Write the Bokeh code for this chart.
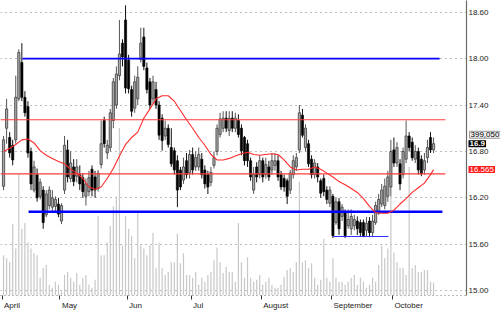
from bokeh.plotting import figure
from bokeh.layouts import row
from bokeh.models import (Range1d, FixedTicker, ColumnDataSource,
                          NumeralTickFormatter, CustomJSTickFormatter)
from bokeh.core.properties import value
from bokeh.embed import file_html
from bokeh.resources import INLINE

# ---------------- data ----------------
months = ["April", "May", "Jun", "Jul", "August", "September", "October"]
month_first_bar = [0, 19, 41, 62, 85, 108, 128]

open_ = [16.35, 17.10, 16.98, 16.88, 16.95, 17.48, 17.95, 17.50, 17.38, 16.80,
         16.30, 16.50, 16.22, 16.30, 15.98, 16.10, 16.08, 16.09, 16.12, 15.90,
         16.30, 16.82, 16.45, 16.60, 16.48, 16.50, 16.46, 16.22, 16.28, 16.57,
         16.47, 16.32, 16.63, 17.20, 16.78, 16.85, 17.20, 17.40, 17.78, 18.20,
         18.50, 17.98, 17.60, 17.36, 17.48, 17.99, 18.28, 17.88, 17.70, 17.48,
         17.60, 17.40, 17.23, 17.00, 17.10, 16.85, 16.81, 16.68, 16.56, 16.43,
         16.68, 16.52, 16.76, 16.60, 16.60, 16.70, 16.56, 16.50, 16.40, 16.62,
         16.80, 17.02, 17.10, 17.23, 17.07, 17.23, 17.10, 17.20, 17.10, 16.98,
         16.90, 16.68, 16.30, 16.60, 16.50, 16.68, 16.50, 16.60, 16.56, 16.62,
         16.68, 16.50, 16.45, 16.42, 16.30, 16.50, 16.60, 16.82, 17.27, 16.85,
         16.90, 16.70, 16.50, 16.60, 16.42, 16.45, 16.30, 16.13, 16.22, 15.88,
         16.15, 15.96, 16.02, 15.84, 15.80, 15.84, 15.90, 15.88, 15.88, 15.78,
         15.90, 15.75, 15.88, 16.00, 16.12, 16.10, 16.22, 16.34, 16.82, 16.65,
         16.64, 16.50, 16.70, 17.00, 16.92, 16.70, 16.80, 16.70, 16.56, 16.72,
         16.98, 16.82]
high = [17.00, 17.48, 17.05, 16.95, 17.78, 18.12, 18.20, 17.58, 17.45, 16.85,
        16.68, 16.58, 16.45, 16.35, 16.30, 16.35, 16.30, 16.22, 16.20, 16.13,
        17.00, 16.95, 16.80, 16.70, 16.70, 16.62, 16.52, 16.45, 16.55, 16.62,
        16.55, 16.56, 17.20, 17.25, 16.95, 17.35, 17.75, 17.90, 18.50, 18.25,
        18.69, 18.05, 17.65, 17.78, 17.90, 18.40, 18.40, 17.95, 17.75, 17.78,
        17.70, 17.45, 17.28, 17.20, 17.15, 17.10, 16.85, 16.75, 16.60, 16.72,
        16.78, 16.82, 16.85, 16.80, 16.85, 16.78, 16.62, 16.55, 16.60, 16.80,
        17.15, 17.30, 17.32, 17.32, 17.32, 17.32, 17.30, 17.28, 17.15, 17.00,
        16.95, 16.72, 16.60, 16.66, 16.75, 16.72, 16.72, 16.68, 16.78, 16.78,
        16.75, 16.55, 16.50, 16.45, 16.56, 16.75, 16.78, 17.40, 17.35, 17.15,
        16.95, 16.75, 16.70, 16.65, 16.45, 16.50, 16.35, 16.35, 16.25, 16.20,
        16.20, 16.12, 16.05, 16.05, 16.05, 15.98, 15.96, 15.92, 15.92, 15.95,
        15.95, 15.98, 16.15, 16.25, 16.38, 16.45, 16.55, 16.95, 16.98, 16.92,
        16.70, 16.85, 17.20, 17.05, 16.98, 16.88, 16.85, 16.75, 16.78, 16.95,
        17.05, 16.98]
low = [16.30, 16.90, 16.72, 16.62, 16.90, 17.45, 17.45, 17.25, 16.72, 16.30,
       16.27, 16.15, 16.18, 15.80, 15.95, 16.05, 16.03, 16.02, 15.95, 15.86,
       16.25, 16.40, 16.40, 16.35, 16.40, 16.30, 16.20, 16.10, 16.22, 16.22,
       16.20, 16.28, 16.58, 16.85, 16.70, 16.80, 17.10, 17.35, 17.72, 17.90,
       17.55, 17.55, 17.25, 17.30, 17.40, 17.95, 17.85, 17.55, 17.35, 17.42,
       17.35, 16.95, 16.81, 16.95, 16.85, 16.60, 16.50, 16.08, 16.30, 16.38,
       16.45, 16.45, 16.50, 16.55, 16.55, 16.45, 16.32, 16.25, 16.35, 16.58,
       16.75, 16.98, 17.05, 17.05, 17.00, 17.05, 17.05, 16.98, 16.75, 16.62,
       16.60, 16.42, 16.25, 16.40, 16.45, 16.40, 16.45, 16.42, 16.50, 16.55,
       16.42, 16.30, 16.28, 16.12, 16.25, 16.45, 16.55, 16.78, 16.98, 16.80,
       16.60, 16.45, 16.45, 16.40, 16.20, 16.22, 16.12, 16.08, 15.68, 15.85,
       15.72, 15.90, 15.68, 15.80, 15.72, 15.78, 15.72, 15.70, 15.69, 15.70,
       15.70, 15.70, 15.85, 15.98, 16.08, 16.05, 16.15, 16.22, 16.60, 16.60,
       16.30, 16.45, 16.65, 16.80, 16.68, 16.65, 16.50, 16.48, 16.50, 16.65,
       16.78, 16.78]
close = [16.95, 17.35, 16.78, 16.69, 17.50, 18.08, 17.50, 17.30, 16.78, 16.38,
         16.60, 16.20, 16.40, 15.88, 16.25, 16.30, 16.20, 16.18, 15.99, 16.10,
         16.88, 16.47, 16.65, 16.41, 16.60, 16.38, 16.28, 16.38, 16.46, 16.30,
         16.30, 16.52, 16.90, 16.90, 16.88, 17.30, 17.70, 17.80, 18.06, 18.02,
         17.62, 17.61, 17.32, 17.70, 17.76, 18.20, 17.90, 17.60, 17.40, 17.70,
         17.40, 17.01, 16.94, 17.10, 16.89, 16.64, 16.56, 16.30, 16.34, 16.60,
         16.50, 16.76, 16.56, 16.72, 16.76, 16.50, 16.38, 16.34, 16.53, 16.72,
         17.10, 17.22, 17.23, 17.10, 17.23, 17.10, 17.23, 17.02, 16.81, 16.68,
         16.68, 16.47, 16.50, 16.47, 16.68, 16.47, 16.63, 16.47, 16.68, 16.68,
         16.47, 16.34, 16.34, 16.22, 16.52, 16.68, 16.72, 17.30, 17.01, 17.10,
         16.64, 16.50, 16.65, 16.47, 16.26, 16.28, 16.18, 16.30, 15.71, 16.15,
         15.80, 16.08, 15.71, 15.92, 15.96, 15.92, 15.80, 15.75, 15.71, 15.87,
         15.75, 15.90, 16.10, 16.18, 16.30, 16.35, 16.47, 16.80, 16.65, 16.85,
         16.38, 16.80, 17.00, 16.85, 16.72, 16.80, 16.56, 16.51, 16.68, 16.85,
         16.82, 16.90]
volume_k = [1230, 1140, 1020, 2190, 1440, 3720, 2040, 2220, 1620, 1440,
            1290, 1230, 540, 840, 930, 330, 240, 420, 330, 120,
            630, 720, 540, 420, 690, 330, 540, 630, 330, 240,
            480, 2430, 1230, 1230, 1620, 2130, 2730, 3030, 5130, 1530,
            2430, 2040, 1830, 1140, 2520, 1530, 1440, 1230, 1530, 1920,
            840, 1620, 840, 630, 720, 1020, 1020, 1890, 990, 1290,
            630, 630, 540, 720, 330, 540, 420, 630, 720, 1080,
            1470, 1020, 690, 870, 720, 720, 420, 2220, 1020, 540,
            1170, 540, 420, 480, 630, 330, 420, 540, 330, 240,
            240, 330, 570, 780, 840, 720, 1020, 3480, 1020, 1080,
            840, 990, 540, 330, 480, 1740, 540, 420, 1140, 540,
            420, 420, 330, 420, 540, 630, 330, 540, 420, 240,
            330, 540, 420, 930, 1530, 1140, 1440, 3030, 1320, 1020,
            840, 840, 630, 3930, 840, 930, 720, 720, 780, 780,
            420, 399.05]

ma_bar = list(range(0, 141, 2)) + [141]
ma_value = [16.80, 16.84, 16.89, 16.95, 16.96, 16.91, 16.81, 16.75, 16.71, 16.67,
            16.64, 16.57, 16.52, 16.45, 16.34, 16.31, 16.34, 16.45, 16.58, 16.74,
            16.89, 16.98, 17.05, 17.23, 17.35, 17.48, 17.52, 17.52, 17.45, 17.33,
            17.21, 17.10, 16.98, 16.88, 16.76, 16.69, 16.69, 16.71, 16.74, 16.77,
            16.79, 16.76, 16.75, 16.76, 16.77, 16.76, 16.69, 16.60, 16.56, 16.57,
            16.57, 16.60, 16.57, 16.52, 16.47, 16.41, 16.37, 16.32, 16.27, 16.19,
            16.09, 16.01, 16.00, 16.00, 16.04, 16.12, 16.19, 16.27, 16.33, 16.39,
            16.50, 16.565]

# horizontal support / resistance lines (price, first bar, last bar)
level_price = [18.00, 17.21, 16.51, 16.02, 15.70]
level_start = [6.2, -1.0, -1.0, 8.2, 108.2]
level_end = [143.0, 144.9, 144.9, 143.9, 126.2]

price_ticks = [15.00, 15.60, 16.20, 16.80, 17.40, 18.00, 18.60]

# ---------------- styles ----------------
level_color = ["#0000ff", "#ff3b3b", "#ff3b3b", "#0000ff", "#3030ff"]
level_width = [1.6, 1.2, 1.2, 2.6, 1.0]
FONT = "Liberation Sans"
W, H = 500, 312
X0, X1 = -1.0, 151.8
Y0, Y1 = 14.937, 18.752
FRAME_W, FRAME_H = 466, 301
STRIP_W = W - FRAME_W
VOL_TOP = 9030

p = figure(width=W, height=H, output_backend="svg", toolbar_location=None,
           x_range=Range1d(X0, X1), y_range=Range1d(Y0, Y1),
           y_axis_location="right", min_border_left=0, min_border_top=0,
           min_border_right=STRIP_W, min_border_bottom=H - FRAME_H)
p.outline_line_color = None
p.background_fill_color = "white"
p.border_fill_color = "white"
p.extra_y_ranges = {"vol": Range1d(0, VOL_TOP)}

# volume
p.vbar(x=list(range(len(volume_k))), top=volume_k, bottom=0, width=0.4,
       y_range_name="vol", fill_color="#c8c8c8", line_color=None)

# candles
up = {"x": [], "o": [], "c": [], "h": [], "l": []}
dn = {"x": [], "o": [], "c": [], "h": [], "l": []}
for i, (o, h, l, c) in enumerate(zip(open_, high, low, close)):
    d = up if c >= o else dn
    d["x"].append(i); d["o"].append(o); d["c"].append(c); d["h"].append(h); d["l"].append(l)


def src(d):
    return ColumnDataSource(dict(x=d["x"], h=d["h"], l=d["l"],
                                 top=[max(a, b) for a, b in zip(d["o"], d["c"])],
                                 bot=[min(a, b) for a, b in zip(d["o"], d["c"])]))


su, sd = src(up), src(dn)
p.segment(x0="x", y0="h", x1="x", y1="l", source=su, line_color="#555555", line_width=1)
p.segment(x0="x", y0="h", x1="x", y1="l", source=sd, line_color="#111111", line_width=1)
p.vbar(x="x", top="top", bottom="bot", width=0.72, source=su,
       fill_color="#a8a8a8", line_color="#404040", line_width=0.8)
p.vbar(x="x", top="top", bottom="bot", width=0.72, source=sd,
       fill_color="#000000", line_color="#000000", line_width=0.6)

# level lines
p.segment(x0=level_start, y0=level_price, x1=level_end, y1=level_price,
          line_color=level_color, line_width=level_width)

# moving average
p.line(ma_bar, ma_value, line_color="#ff2a2a", line_width=1.1)

# y axis (right)
ya = p.yaxis[0]
ya.ticker = FixedTicker(ticks=price_ticks, minor_ticks=[])
ya.formatter = NumeralTickFormatter(format="0.00")
ya.major_tick_out = 0
ya.major_tick_in = 0
ya.minor_tick_out = 0
ya.major_label_standoff = 2
ya.axis_line_color = "#6a6a6a"
ya.axis_line_width = 1.2
ya.major_label_text_font = FONT
ya.major_label_text_font_size = "8px"
ya.major_label_text_color = "#222222"

p.ygrid.grid_line_color = "#7a7a7a"
p.ygrid.grid_line_dash = "1 4"
p.ygrid.grid_line_width = 1
p.xgrid.visible = False

# x axis (months), label left-aligned just right of the month tick
AW = {"A": .667, "p": .556, "r": .333, "i": .222, "l": .222, "M": .833, "a": .556,
      "y": .5, "J": .5, "u": .556, "n": .556, "g": .556, "s": .5, "t": .278,
      "S": .667, "e": .556, "m": .833, "b": .556, "O": .778, "c": .5, "o": .556}
px_per_bar = FRAME_W / (X1 - X0)
tick_pos = [b - 0.5 for b in month_first_bar]
label_pos = [t + (2 + 0.5 * 8 * sum(AW.get(ch, .556) for ch in m)) / px_per_bar
             for t, m in zip(tick_pos, months)]
xa = p.xaxis[0]
xa.ticker = FixedTicker(ticks=label_pos, minor_ticks=tick_pos)
xa.formatter = CustomJSTickFormatter(args=dict(labels=months), code="return labels[index];")
xa.major_tick_out = 0
xa.major_tick_in = 0
xa.minor_tick_out = 4
xa.minor_tick_in = 0
xa.minor_tick_line_color = "#333333"
xa.axis_line_color = "#7a7a7a"
xa.axis_line_dash = "1 3"
xa.major_label_standoff = 1
xa.major_label_text_font = FONT
xa.major_label_text_font_size = "8px"
xa.major_label_text_color = "#222222"

# ---- value boxes: transparent strip laid over the right axis area ----
strip = figure(width=STRIP_W, height=H, output_backend="svg", toolbar_location=None,
               x_range=Range1d(0, STRIP_W), y_range=p.y_range,
               x_axis_location=None, y_axis_location=None,
               min_border_left=0, min_border_right=0, min_border_top=0,
               min_border_bottom=H - FRAME_H, margin=(0, 0, 0, -STRIP_W))
strip.background_fill_color = None
strip.border_fill_color = None
strip.outline_line_color = None
strip.grid.visible = False

vol_label_y = Y1 - 137 / FRAME_H * (Y1 - Y0)   # vertical slot of the volume read-out
vol_text = f"{int(round(volume_k[-1] * 1000)):,}"
strip.text(x=[3], y=[vol_label_y], text=[vol_text], text_font=value(FONT),
           text_font_size="8px", text_color="#000000", text_baseline="middle",
           text_align="left", background_fill_color="#eeeeee",
           border_line_color="#9a9a9a", padding=1)
strip.text(x=[2], y=[close[-1]], text=[f"{close[-1]:g}"], text_font=value(FONT),
           text_font_size="8px", text_font_style="bold", text_color="#ffffff",
           text_baseline="middle", text_align="left",
           background_fill_color="#000000", padding=1)
strip.text(x=[2], y=[ma_value[-1]], text=[f"{ma_value[-1]:g}"], text_font=value(FONT),
           text_font_size="8px", text_color="#ffffff", text_baseline="middle",
           text_align="left", background_fill_color="#ff1a1a", padding=1)

layout = row(p, strip, spacing=0)
open("out.html", "w").write(file_html(layout, INLINE))
